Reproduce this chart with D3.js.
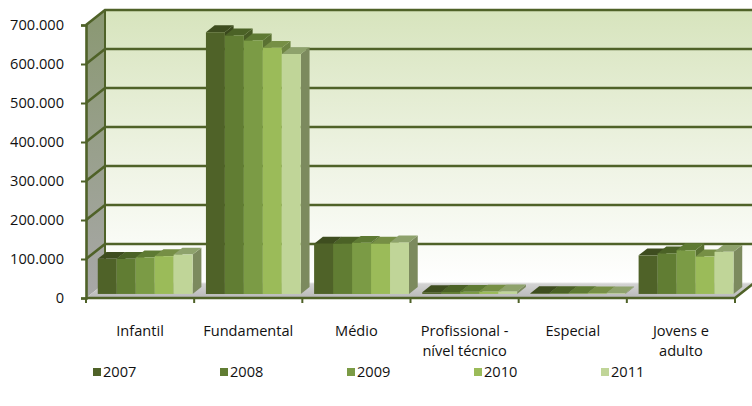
<!DOCTYPE html>
<html>
<head>
<meta charset="utf-8">
<script src="https://cdn.jsdelivr.net/npm/d3@7"></script>
<style>
  body { margin: 0; background: #fff; }
  svg { display: block; }
  text { font-family: "Open Sans", "Noto Sans", sans-serif; fill: #111; font-weight: normal; }
</style>
</head>
<body>
<svg id="chart" width="752" height="406"></svg>
<script>
// Matrículas por modalidade de ensino, 2007–2011
const categories = ["Infantil", "Fundamental", "Médio", "Profissional - nível técnico", "Especial", "Jovens e adulto"];
const categoryLines = [["Infantil"], ["Fundamental"], ["Médio"], ["Profissional -", "nível técnico"], ["Especial"], ["Jovens e", "adulto"]];
const years = ["2007", "2008", "2009", "2010", "2011"];
const v2007 = [90000, 671000, 129000, 4500, 2000, 99000];
const v2008 = [90000, 663000, 129000, 5000, 2000, 104000];
const v2009 = [94000, 650000, 131000, 5500, 1800, 112000];
const v2010 = [97000, 631000, 129000, 6000, 1600, 96000];
const v2011 = [101000, 615000, 132000, 6500, 1500, 108000];
const yTicks = [0, 100000, 200000, 300000, 400000, 500000, 600000, 700000];
const colors = ["#4F6228", "#617D33", "#7B9B45", "#9BBB59", "#C0D598"];
const topColors = ["#3E4D1F", "#4B6226", "#5E7A33", "#768F45", "#8EA26C"];
const sideColors = ["#3A481C", "#475B24", "#5A7132", "#6E8543", "#7C8A5E"];

const seriesValues = [v2007, v2008, v2009, v2010, v2011];

const svg = d3.select("#chart");
const dark = "#4F6228";
const fontSize = "14.6px";

// front plane and depth offset of the 3-D box
const X0 = 86, X1 = 735, Y0 = 298;
const DX = 19, DY = -15;
const D0 = 0.27, D1 = 0.73; // bar depth range inside the box

const y = d3.scaleLinear().domain([0, 700000]).range([Y0, Y0 - 7 * 39]);
const x0 = d3.scaleBand().domain(categories).range([X0, X1]);
const x1 = d3.scaleBand().domain(years).range([0, x0.bandwidth()]).paddingInner(0).paddingOuter(0.35);

const P = (x, v, d) => [x + d * DX, y(v) + d * DY];
const poly = pts => "M" + pts.map(p => p.join(",")).join("L") + "Z";

const defs = svg.append("defs");
const gWall = defs.append("linearGradient").attr("id", "wallGrad").attr("x1", 0).attr("y1", 0).attr("x2", 0).attr("y2", 1);
gWall.append("stop").attr("offset", "0%").attr("stop-color", "#D7E4BD");
gWall.append("stop").attr("offset", "55%").attr("stop-color", "#EEF3E3");
gWall.append("stop").attr("offset", "100%").attr("stop-color", "#FFFFFF");
const gSide = defs.append("linearGradient").attr("id", "sideGrad").attr("x1", 0).attr("y1", 0).attr("x2", 0).attr("y2", 1);
gSide.append("stop").attr("offset", "0%").attr("stop-color", "#8A9872");
gSide.append("stop").attr("offset", "100%").attr("stop-color", "#A8A8A8");
const gFloor = defs.append("linearGradient").attr("id", "floorGrad").attr("x1", 0).attr("y1", 0).attr("x2", 0).attr("y2", 1);
gFloor.append("stop").attr("offset", "0%").attr("stop-color", "#D4D4D4");
gFloor.append("stop").attr("offset", "100%").attr("stop-color", "#B9B9B9");

const yMax = 700000;

// back wall
svg.append("path")
  .attr("d", poly([P(X0, yMax, 1), P(X1, yMax, 1), P(X1, 0, 1), P(X0, 0, 1)]))
  .attr("fill", "url(#wallGrad)");

// left side wall
svg.append("path")
  .attr("d", poly([P(X0, 0, 0), P(X0, yMax, 0), P(X0, yMax, 1), P(X0, 0, 1)]))
  .attr("fill", "url(#sideGrad)");

// floor
svg.append("path")
  .attr("d", poly([P(X0, 0, 0), P(X1, 0, 0), P(X1, 0, 1), P(X0, 0, 1)]))
  .attr("fill", "url(#floorGrad)");
svg.append("line")
  .attr("x1", P(X0, 0, 1)[0]).attr("y1", P(X0, 0, 1)[1])
  .attr("x2", P(X1, 0, 1)[0]).attr("y2", P(X1, 0, 1)[1])
  .attr("stroke", "#E6E6E6").attr("stroke-width", 1);

// gridlines on back and side walls
const grid = svg.append("g").attr("stroke", dark).attr("stroke-width", 2.6).attr("fill", "none");
yTicks.filter(t => t > 0).forEach(t => {
  grid.append("path").attr("d", "M" + [P(X0, t, 0), P(X0, t, 1), P(X1, t, 1)].map(p => p.join(",")).join("L"));
});
// back edge of the side wall
grid.append("line")
  .attr("x1", P(X0, 0, 1)[0]).attr("y1", P(X0, 0, 1)[1])
  .attr("x2", P(X0, yMax, 1)[0]).attr("y2", P(X0, yMax, 1)[1])
  .attr("stroke-width", 2);

// bars
const bars = svg.append("g");
categories.forEach((c, ci) => {
  years.forEach((yr, si) => {
    const v = seriesValues[si][ci];
    const xl = x0(c) + x1(yr), xr = xl + x1.bandwidth();
    bars.append("path").attr("d", poly([P(xr, 0, D0), P(xr, 0, D1), P(xr, v, D1), P(xr, v, D0)]))
      .attr("fill", sideColors[si]);
    bars.append("path").attr("d", poly([P(xl, v, D0), P(xr, v, D0), P(xr, v, D1), P(xl, v, D1)]))
      .attr("fill", topColors[si]);
    bars.append("path").attr("d", poly([P(xl, 0, D0), P(xr, 0, D0), P(xr, v, D0), P(xl, v, D0)]))
      .attr("fill", colors[si]);
  });
});

// front edge of the floor and its right end
svg.append("path")
  .attr("d", "M" + [P(X0, 0, 0), P(X1, 0, 0), P(X1, 0, 1)].map(p => p.join(",")).join("L"))
  .attr("fill", "none").attr("stroke", dark).attr("stroke-width", 2.6);

// category boundary ticks
const bounds = categories.map(c => x0(c)).concat([X1]);
svg.append("g").selectAll("line").data(bounds).join("line")
  .attr("x1", d => d).attr("x2", d => d)
  .attr("y1", Y0).attr("y2", Y0 + 5)
  .attr("stroke", dark).attr("stroke-width", 2);

// value axis
const fmt = d3.formatLocale({ decimal: ",", thousands: ".", grouping: [3], currency: ["R$", ""] }).format(",d");
const yAxis = svg.append("g")
  .attr("transform", `translate(${X0},0)`)
  .call(d3.axisLeft(y).tickValues(yTicks).tickSize(5).tickPadding(17).tickFormat(fmt));
yAxis.select(".domain").attr("stroke", dark).attr("stroke-width", 2.6);
yAxis.selectAll(".tick line").attr("stroke", dark).attr("stroke-width", 2);
yAxis.selectAll(".tick text").style("font-size", fontSize).attr("fill", "#111");

// category labels
const labels = svg.append("g").style("font-size", fontSize).attr("text-anchor", "middle");
categories.forEach((c, i) => {
  const t = labels.append("text").attr("x", x0(c) + x0.bandwidth() / 2).attr("y", 336);
  categoryLines[i].forEach((line, j) => {
    t.append("tspan").attr("x", x0(c) + x0.bandwidth() / 2).attr("dy", j === 0 ? 0 : 19.5).text(line);
  });
});

// legend
const legend = svg.append("g").style("font-size", fontSize);
years.forEach((yr, i) => {
  const lx = 93 + i * 127;
  legend.append("rect").attr("x", lx).attr("y", 368).attr("width", 8).attr("height", 8).attr("fill", colors[i]);
  legend.append("text").attr("x", lx + 10).attr("y", 377).text(yr);
});
</script>
</body>
</html>
